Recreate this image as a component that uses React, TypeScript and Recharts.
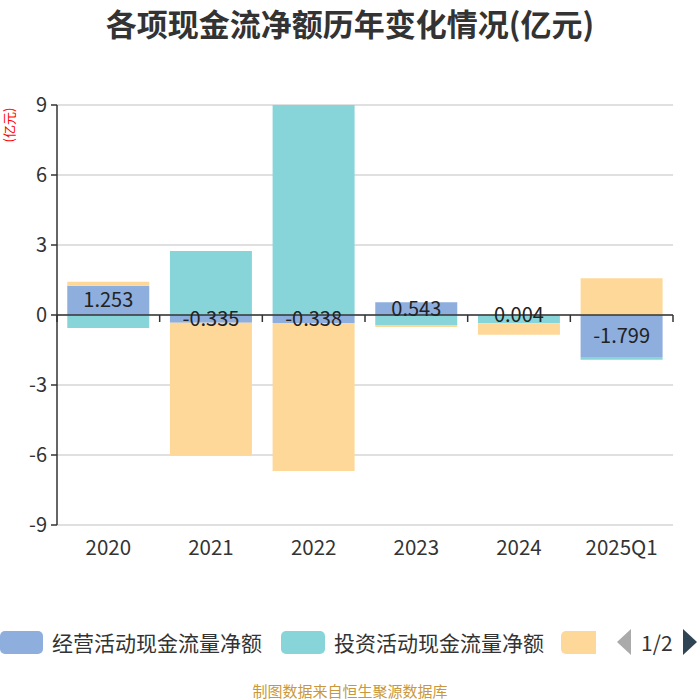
import React from 'react';
import {
  BarChart,
  Bar,
  XAxis,
  YAxis,
  CartesianGrid,
  ReferenceLine,
  LabelList,
} from 'recharts';

// categories and series values (亿元)
const years = ['2020', '2021', '2022', '2023', '2024', '2025Q1'];
const operating = [1.253, -0.335, -0.338, 0.543, 0.004, -1.799];
const investing = [-0.56, 2.74, 9.0, -0.43, -0.35, -0.12];
const financing = [0.17, -5.7, -6.35, -0.08, -0.5, 1.58];
const yTicks = [-9, -6, -3, 0, 3, 6, 9];

const seriesNames = ['经营活动现金流量净额', '投资活动现金流量净额', '筹资活动现金流量净额'];
const colors = ['#8eaedd', '#88d5d9', '#fed898'];

const FONT = '"Noto Sans CJK SC", "Noto Sans", sans-serif';

const chartData = years.map((year, i) => ({
  year,
  operating: operating[i],
  investing: investing[i],
  financing: financing[i],
}));

/**
 * Zero line with small ticks at category boundaries
 */
function ZeroAxis(props: any) {
  const { x1, x2, y1 } = props;
  const n = years.length;
  const step = (x2 - x1) / n;
  return (
    <g>
      <line x1={x1} x2={x2} y1={y1} y2={y1} stroke="#333" strokeWidth={1.5} />
      {Array.from({ length: n + 1 }, (_, i) => (
        <line
          key={i}
          x1={x1 + step * i}
          x2={x1 + step * i}
          y1={y1}
          y2={y1 + 7}
          stroke="#333"
          strokeWidth={1.5}
        />
      ))}
    </g>
  );
}

function Arrow({ dir, color }: { dir: 'left' | 'right'; color: string }) {
  const points = dir === 'left' ? '14,0 14,26 0,13' : '0,0 0,26 14,13';
  return (
    <svg width={14} height={26} style={{ display: 'block' }}>
      <polygon points={points} fill={color} />
    </svg>
  );
}

function LegendBar() {
  return (
    <div
      style={{
        position: 'absolute',
        left: 0,
        top: 626,
        width: 700,
        height: 32,
        display: 'flex',
        alignItems: 'center',
        fontFamily: FONT,
        fontSize: 21,
        lineHeight: '32px',
        color: '#333',
        whiteSpace: 'nowrap',
      }}
    >
      <div style={{ flex: 'none', width: 43, height: 23, background: colors[0], borderRadius: 5 }} />
      <span style={{ flex: 'none', marginLeft: 9 }}>{seriesNames[0]}</span>
      <div style={{ flex: 'none', marginLeft: 19, width: 44, height: 23, background: colors[1], borderRadius: 5 }} />
      <span style={{ flex: 'none', marginLeft: 9 }}>{seriesNames[1]}</span>
      <div
        style={{ flex: 'none', marginLeft: 17, width: 35, height: 23, background: colors[2], borderRadius: '5px 0 0 5px' }}
      />
      <div style={{ flex: 'none', marginLeft: 21 }}>
        <Arrow dir="left" color="#aaa" />
      </div>
      <span style={{ flex: 'none', marginLeft: 10 }}>1/2</span>
      <div style={{ flex: 'none', marginLeft: 10 }}>
        <Arrow dir="right" color="#2f4554" />
      </div>
    </div>
  );
}

export default function App() {
  return (
    <div
      style={{
        position: 'absolute',
        left: 0,
        top: 0,
        width: 700,
        height: 700,
        background: '#fff',
        overflow: 'hidden',
        fontFamily: FONT,
      }}
    >
      <div
        style={{
          position: 'absolute',
          top: 0,
          left: 0,
          width: 700,
          textAlign: 'center',
          fontSize: 31,
          fontWeight: 'bold',
          color: '#333',
        }}
      >
        各项现金流净额历年变化情况(亿元)
      </div>

      <div
        style={{
          position: 'absolute',
          left: -13,
          top: 116,
          width: 44,
          textAlign: 'center',
          fontSize: 13,
          color: '#ff0000',
          transform: 'rotate(-90deg)',
          lineHeight: '18px',
        }}
      >
        (亿元)
      </div>

      <div style={{ position: 'absolute', left: 0, top: 0 }}>
        <BarChart
          width={700}
          height={580}
          data={chartData}
          stackOffset="sign"
          barCategoryGap="10%"
          margin={{ top: 105, right: 27, left: 0, bottom: 15 }}
        >
          <CartesianGrid vertical={false} stroke="#d6d6d6" strokeWidth={1.5} />
          <XAxis
            dataKey="year"
            axisLine={false}
            tickLine={false}
            height={40}
            tickMargin={9}
            tick={{ fill: '#333', fontSize: 20.5, fontFamily: FONT }}
          />
          <YAxis
            width={57}
            domain={[-9, 9]}
            ticks={yTicks}
            allowDataOverflow
            interval={0}
            axisLine={{ stroke: '#333', strokeWidth: 1.5 }}
            tickLine={{ stroke: '#333', strokeWidth: 1.5 }}
            tickSize={6}
            tickMargin={4}
            tick={{ fill: '#333', fontSize: 20, fontFamily: FONT }}
          />
          <ReferenceLine y={0} shape={<ZeroAxis />} />
          <Bar dataKey="operating" name={seriesNames[0]} stackId="a" fill={colors[0]} isAnimationActive={false}>
            <LabelList dataKey="operating" position="center" fill="#222" fontSize={20} fontFamily={FONT} />
          </Bar>
          <Bar dataKey="investing" name={seriesNames[1]} stackId="a" fill={colors[1]} isAnimationActive={false} />
          <Bar dataKey="financing" name={seriesNames[2]} stackId="a" fill={colors[2]} isAnimationActive={false} />
        </BarChart>
      </div>

      <LegendBar />

      <div
        style={{
          position: 'absolute',
          top: 680,
          left: 0,
          width: 700,
          textAlign: 'center',
          fontSize: 15,
          color: '#c9983c',
        }}
      >
        制图数据来自恒生聚源数据库
      </div>
    </div>
  );
}
